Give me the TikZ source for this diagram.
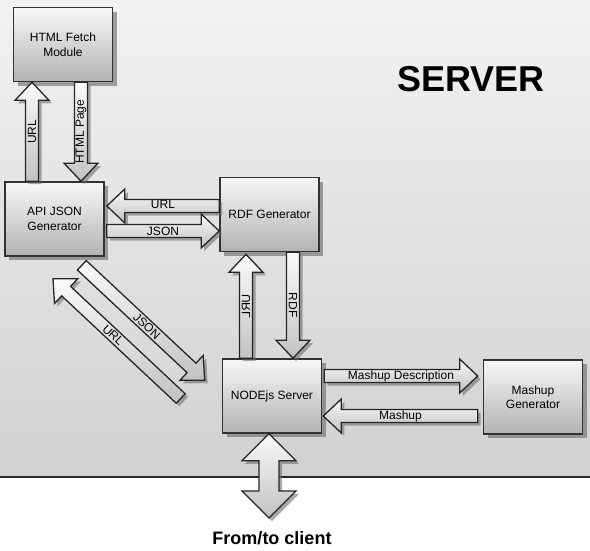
\documentclass[tikz,border=0pt]{standalone}
\usepackage{fontspec}
\setmainfont{Liberation Sans}
\usepackage{tikz}
\usetikzlibrary{shadows}
\usetikzlibrary{positioning}
\usetikzlibrary{calc}

\tikzset{
  box/.style={draw=black!80, line width=1.6pt, top color=black!3, bottom color=black!30,
    minimum width=99pt, minimum height=74pt, align=center, font=\fontsize{12}{14.5}\selectfont,
    drop shadow={shadow xshift=4pt, shadow yshift=-4pt, fill=black!60, opacity=.6}},
  fatarrow/.style={draw=black!85, line width=1.3pt, line join=miter, top color=black!2, bottom color=black!24,
    drop shadow={shadow xshift=3pt, shadow yshift=-3pt, fill=black!60, opacity=.55}},
  arrowlabel/.style={font=\fontsize{12}{13}\selectfont, inner sep=0pt}
}

% one headed block arrow: from, tip, label options, label
\newcommand{\blockarrow}[4]{%
  \coordinate (ba-s) at #1;
  \coordinate (ba-e) at #2;
  \coordinate (ba-b) at ($(ba-e)!18pt!(ba-s)$);
  \path[fatarrow] ($(ba-s)!6.5pt!90:(ba-e)$) -- ($(ba-b)!6.5pt!90:(ba-e)$) -- ($(ba-b)!17pt!90:(ba-e)$)
    -- (ba-e) -- ($(ba-b)!17pt!-90:(ba-e)$) -- ($(ba-b)!6.5pt!-90:(ba-e)$) -- ($(ba-s)!6.5pt!-90:(ba-e)$) -- cycle;
  \node[arrowlabel, #3] at ($(ba-s)!0.5!(ba-e)$) {#4};
}

% two headed block arrow: tip, tip
\newcommand{\dblarrow}[2]{%
  \coordinate (da-t) at #1;
  \coordinate (da-b) at #2;
  \coordinate (da-ht) at ($(da-t)!27pt!(da-b)$);
  \coordinate (da-hb) at ($(da-b)!27pt!(da-t)$);
  \path[fatarrow] (da-t) -- ($(da-ht)!27pt!90:(da-b)$) -- ($(da-ht)!10pt!90:(da-b)$) -- ($(da-hb)!10pt!-90:(da-t)$)
    -- ($(da-hb)!27pt!-90:(da-t)$) -- (da-b) -- ($(da-hb)!27pt!90:(da-t)$) -- ($(da-hb)!10pt!90:(da-t)$)
    -- ($(da-ht)!10pt!-90:(da-b)$) -- ($(da-ht)!27pt!-90:(da-b)$) -- cycle;
}

\begin{document}
\begin{tikzpicture}[x=1pt, y=-1pt]
\useasboundingbox (0,0) rectangle (590,550);

%server area
	\shade[top color=black!5, bottom color=black!18] (0,0) rectangle (590,477);
	\draw[line width=1.4pt, black!85] (0,477) -- (590,477);
	\node[font=\fontsize{36}{40}\selectfont\bfseries] (server) at (471,79) {SERVER};

%boxes
	\foreach \xy/\name/\txt in {{(63,44.5)/fetch/{HTML Fetch\\Module}}, {(54.5,219)/api/{API JSON\\Generator}},
		{(269.5,214.5)/rdf/{RDF Generator}}, {(272,396)/nodejs/{NODEjs Server}}, {(533,397)/mashup/{Mashup\\Generator}}} {
		\node[box] (\name) at \xy {\txt};
	}

%arrows
	\blockarrow{([xshift=-22.5pt]api.north)}{([xshift=-31pt]fetch.south)}{rotate=90}{URL}
	\blockarrow{([xshift=18pt]fetch.south)}{([xshift=26.5pt]api.north)}{rotate=90}{HTML Page}

	\blockarrow{([yshift=8.5pt]rdf.west)}{([xshift=2pt,yshift=13pt]api.east)}{yshift=1.5pt}{URL}
	\blockarrow{([xshift=2pt,yshift=-12pt]api.east)}{([yshift=-16.5pt]rdf.west)}{}{JSON}

	\blockarrow{([xshift=-26pt]nodejs.north)}{([xshift=-23.5pt,yshift=-2pt]rdf.south)}{rotate=-90,yscale=-1}{URL}
	\blockarrow{([xshift=23.5pt]rdf.south)}{([xshift=21pt]nodejs.north)}{rotate=-90}{RDF}

	\blockarrow{([xshift=-23pt,yshift=-8.5pt]api.south east)}{([xshift=-17pt,yshift=-22pt]nodejs.north west)}{rotate=-43,xshift=5pt}{JSON}
	\blockarrow{([xshift=-41pt,yshift=-2.5pt]nodejs.west)}{([xshift=-1.5pt,yshift=-22pt]api.south)}{rotate=-43,xshift=-5pt}{URL}

	\blockarrow{([xshift=2pt,yshift=20pt]nodejs.east)}{([xshift=-5pt,yshift=21pt]mashup.west)}{}{Mashup Description}
	\blockarrow{([xshift=-5pt,yshift=-19pt]mashup.west)}{([xshift=1pt,yshift=-20pt]nodejs.east)}{}{Mashup}

%client
	\coordinate (cl) at (269,518);
	\dblarrow{([xshift=-3pt]nodejs.south)}{(cl)}
	\node[font=\fontsize{18}{20}\selectfont\bfseries] (client) at (272,538) {From/to client};

\end{tikzpicture}
\end{document}
